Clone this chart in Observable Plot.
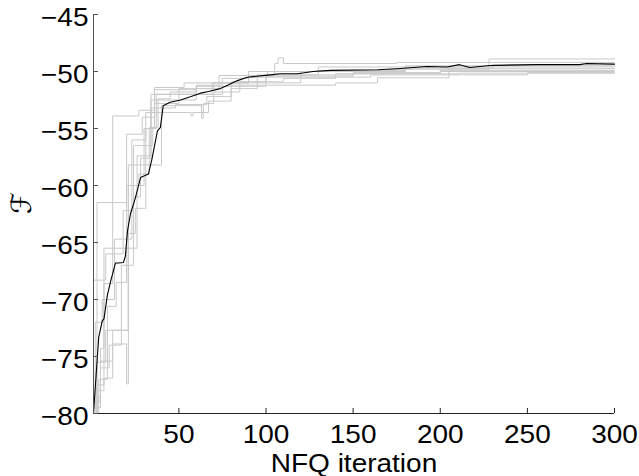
<!DOCTYPE html>
<html>
<head>
<meta charset="utf-8">
<script src="https://cdn.jsdelivr.net/npm/d3@7"></script>
<script src="https://cdn.jsdelivr.net/npm/@observablehq/plot@0.6"></script>
<style>
  html, body { margin: 0; padding: 0; background: #fff; }
  #chart { width: 639px; height: 476px; }
</style>
</head>
<body>
<div id="chart"></div>
<script>
// ---- data ----
const xTicks = [50, 100, 150, 200, 250, 300];
const yTicks = [-80, -75, -70, -65, -60, -55, -50, -45];
const xLabel = "NFQ iteration";
const yLabel = "ℱ";

// individual runs: [iteration, F] step points
const run1 = [[1,-80],[3,-75.5],[8,-72.7],[21,-60.0],[30,-55.0],[34,-52.0],[45,-51.8],[60,-51.2],[75,-50.6],[90,-50.4],[105,-49.3],[107,-48.8],[110,-49.3],[175,-49.2],[228,-48.9],[300,-48.9]];
const run2 = [[1,-79.5],[5,-74.3],[7,-68.6],[12,-53.9],[27,-53.4],[36,-51.6],[60,-51.3],[80,-51.2],[140,-51.0],[164,-50.55],[205,-49.76],[300,-49.76]];
const run3 = [[1,-80],[4,-78.5],[5,-75.4],[12,-73.9],[20,-77.4],[21,-64.2],[25,-62.0],[31,-55.0],[37,-52.0],[50,-51.5],[70,-51.0],[95,-50.3],[130,-49.9],[180,-49.7],[230,-49.4],[300,-49.4]];
const run4 = [[1,-80],[3,-78],[7,-76.9],[12,-72.7],[21,-58.2],[40,-53.0],[63,-54.1],[64,-52.8],[70,-51.8],[85,-50.9],[100,-50.3],[150,-50.1],[200,-50.0],[300,-50.0]];
const run5 = [[1,-80],[3,-77.5],[7,-65.5],[26,-57.4],[34,-52.5],[60,-52.0],[75,-51.3],[100,-50.4],[150,-50.2],[210,-50.15],[300,-50.15]];
const run6 = [[1,-68.3],[8,-66.0],[18,-62.2],[24,-56.5],[35,-54.9],[36,-51.4],[53,-51.0],[90,-50.0],[130,-49.6],[300,-49.6]];
const run7 = [[1,-80],[2,-72],[6,-70],[13,-64.7],[23,-56],[31,-53.6],[57,-53.9],[58,-53.6],[67,-52.6],[80,-51.5],[95,-51.0],[120,-50.5],[160,-50.3],[250,-50.1],[300,-50.1]];
const run8 = [[1,-79],[4,-77],[9,-70.6],[14,-68.5],[20,-60],[27,-59],[33,-54.9],[38,-52.4],[45,-52.0],[60,-51.5],[73,-50.35],[101,-50.0],[170,-49.8],[228,-49.2],[300,-49.2]];
const run9 = [[1,-80],[3,-79],[5,-76],[10,-74],[17,-67],[24,-61],[28,-57.6],[34,-53.2],[48,-52.9],[66,-52.2],[80,-50.9],[110,-50.6],[140,-50.2],[200,-49.9],[300,-49.9]];
const run10 = [[1,-79],[3,-61.5],[20,-55.5],[29,-54.0],[36,-52.8],[50,-52.0],[69,-51.0],[90,-50.5],[120,-50.0],[180,-49.5],[300,-49.5]];

// mean curve (black)
const meanCurve = [[1,-80],[3,-75.5],[4,-73.3],[6,-71.9],[7,-71.7],[9,-69.6],[11,-68.3],[13.6,-66.8],[15.3,-66.8],[18.2,-66.75],[19.3,-66.2],[20.5,-64],[22.2,-62.5],[25,-61.1],[27,-59.9],[28,-59.3],[32.5,-59],[34.5,-57.7],[37.7,-55.2],[39.4,-54.9],[41,-53],[45,-52.7],[51,-52.5],[57,-52.2],[62.4,-51.9],[67,-51.75],[73.8,-51.5],[78,-51.2],[83.6,-50.8],[89.3,-50.5],[102.5,-50.3],[108,-50.2],[118,-50.2],[127,-50.0],[137,-49.9],[164,-49.85],[175,-49.76],[192.5,-49.56],[204,-49.6],[211,-49.4],[217,-49.65],[228.6,-49.47],[255.6,-49.4],[280,-49.4],[284,-49.3],[300,-49.35]];

// ---- build tables ----
const runs = [run1, run2, run3, run4, run5, run6, run7, run8, run9, run10];
const grayData = runs.flatMap((r, i) => r.map(([x, y]) => ({run: i, x, y})));
const meanData = meanCurve.map(([x, y]) => ({x, y}));

const chart = Plot.plot({
  width: 639,
  height: 476,
  marginLeft: 93,
  marginRight: 25,
  marginTop: 14,
  marginBottom: 63,
  style: {fontFamily: "'Liberation Sans', Arial, Helvetica, sans-serif", fontSize: "25px", background: "#fff", color: "#000"},
  x: {domain: [1, 300]},
  y: {domain: [-80, -45]},
  marks: [
    Plot.line(grayData, {x: "x", y: "y", z: "run", stroke: "#c9c9c9", strokeWidth: 1, curve: "step-after"}),
    Plot.line(meanData, {x: "x", y: "y", stroke: "#000", strokeWidth: 1.1}),
    Plot.ruleX([1], {stroke: "#555", strokeWidth: 1}),
    Plot.ruleY([-80], {stroke: "#222", strokeWidth: 1}),
    Plot.axisX(xTicks, {tickSize: -5, tickFormat: () => "", label: null, stroke: "#222"}),
    Plot.axisY(yTicks, {tickSize: -5, tickFormat: () => "", label: null, stroke: "#555"}),
    Plot.axisX(xTicks, {tickSize: 0, tickPadding: 12, fontSize: 25, label: xLabel, labelAnchor: "center", labelArrow: "none", labelOffset: 58}),
    Plot.axisY(yTicks, {tickSize: 0, tickPadding: 5, dy: 3, fontSize: 25, label: null}),
    Plot.text([yLabel], {frameAnchor: "left", dx: -71, rotate: -90, text: d => d, fontSize: 28, fontFamily: "'DejaVu Serif', 'DejaVu Sans', serif"})
  ]
});
document.getElementById("chart").appendChild(chart);

// widen axis text slightly to match the reference's horizontally stretched type
chart.querySelectorAll("text").forEach(t => {
  if (t.textContent === yLabel) return;
  const len = t.getComputedTextLength();
  if (len > 0) {
    t.setAttribute("textLength", (len * 1.12).toFixed(1));
    t.setAttribute("lengthAdjust", "spacingAndGlyphs");
  }
});
</script>
</body>
</html>
